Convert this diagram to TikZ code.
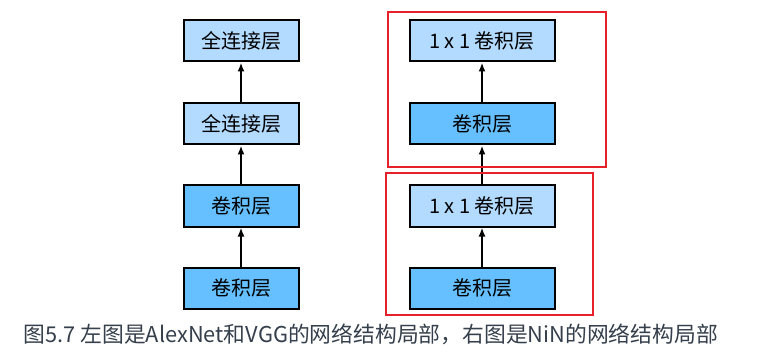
\documentclass[tikz,border=0pt]{standalone}
\usepackage{fontspec}
\setmainfont{Noto Sans CJK SC}
\usetikzlibrary{arrows.meta}
\definecolor{netLight}{HTML}{B3DAFF}
\definecolor{netDark}{HTML}{66C0FF}
\definecolor{netRed}{HTML}{E8202A}
\definecolor{netInk}{HTML}{36404C}

\begin{document}
\begin{tikzpicture}[x=1pt,y=-1pt,>={Latex[length=9pt,width=7pt]}]
\path[fill=white] (0,0) rectangle (765,358);
\tikzset{layer/.style={draw=black,line width=2pt,inner sep=0pt,minimum height=41pt,font=\fontsize{20}{24}\selectfont},
  fcbox/.style={layer,fill=netLight,minimum width=115pt},
  convbox/.style={layer,fill=netDark,minimum width=115pt},
  nincbox/.style={layer,fill=netLight,minimum width=145pt},
  ninbox/.style={layer,fill=netDark,minimum width=145pt},
  link/.style={draw=black,line width=2pt,->},
  frame/.style={draw=netRed,line width=2.6pt}}
% left: AlexNet / VGG
\node[convbox] (conv1) at (241,288) {卷积层};
\node[convbox] (conv2) at (241,206) {卷积层};
\node[fcbox] (fc1) at (241,124) {全连接层};
\node[fcbox] (fc2) at (241,41) {全连接层};
\draw[link] (conv1) -- (conv2);
\draw[link] (conv2) -- (fc1);
\draw[link] (fc1) -- (fc2);
% right: NiN
\node[ninbox] (nconv1) at (482,288) {卷积层};
\node[nincbox] (none1) at (482,206) {1 x 1 卷积层};
\node[ninbox] (nconv2) at (482,124) {卷积层};
\node[nincbox] (none2) at (482,41) {1 x 1 卷积层};
\draw[link] (nconv1) -- (none1);
\draw[link] (none1) -- (nconv2);
\draw[link] (nconv2) -- (none2);
\path[frame] (388,12) rectangle (606,167);
\path[frame] (386,173) rectangle (593,315);
\node[anchor=west,text=netInk,font=\fontsize{21.8}{26}\selectfont] (caption) at (20,334) {图5.7 左图是AlexNet和VGG的网络结构局部，右图是NiN的网络结构局部};
\end{tikzpicture}
\end{document}
